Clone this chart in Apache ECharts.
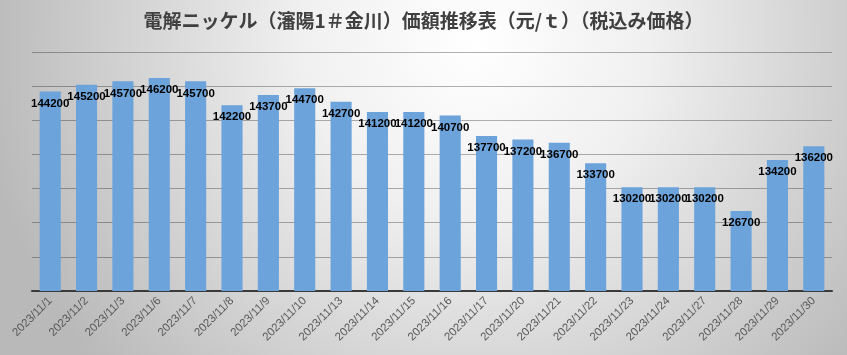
<!DOCTYPE html>
<html>
<head>
<meta charset="utf-8">
<script src="https://cdn.jsdelivr.net/npm/echarts@6/dist/echarts.min.js"></script>
<style>
html,body{margin:0;padding:0;}
#chart{width:847px;height:355px;}
</style>
</head>
<body>
<div id="chart"></div>
<script>
const titleText = '電解ニッケル（瀋陽1＃金川）価額推移表（元/ｔ）（税込み価格）';
const categories = ['2023/11/1','2023/11/2','2023/11/3','2023/11/6','2023/11/7','2023/11/8','2023/11/9','2023/11/10','2023/11/13','2023/11/14','2023/11/15','2023/11/16','2023/11/17','2023/11/20','2023/11/21','2023/11/22','2023/11/23','2023/11/24','2023/11/27','2023/11/28','2023/11/29','2023/11/30'];
const prices = [144200,145200,145700,146200,145700,142200,143700,144700,142700,141200,141200,140700,137700,137200,136700,133700,130200,130200,130200,126700,134200,136200];
const yMin = 115000, yMax = 150000, yStep = 5000;

const chart = echarts.init(document.getElementById('chart'), null, {renderer:'canvas'});
chart.setOption({
  animation:false,
  backgroundColor: new echarts.graphic.RadialGradient(0.56, 0.12, 1.4, [
    {offset:0, color:'#ffffff'},
    {offset:0.35, color:'#f0f0f0'},
    {offset:1, color:'#b9b9b9'}
  ]),
  title:{
    text:titleText,
    left:'center',
    top:6,
    textStyle:{fontFamily:'"Noto Sans CJK JP", sans-serif', fontSize:19, fontWeight:'bold', color:'#404040'}
  },
  grid:{left:32, right:15, top:52, bottom:64, containLabel:false},
  xAxis:{
    type:'category',
    data:categories,
    axisLine:{lineStyle:{color:'#3a3a3a', width:2}},
    axisTick:{show:false},
    axisLabel:{rotate:45, color:'#595959', fontSize:11.5, fontFamily:'"Liberation Sans", Arial, sans-serif', margin:8, interval:0}
  },
  yAxis:{
    type:'value',
    min:yMin, max:yMax, interval:yStep,
    axisLabel:{show:false},
    axisLine:{show:false},
    axisTick:{show:false},
    splitLine:{lineStyle:{color:'rgba(0,0,0,0.3)', width:1}}
  },
  series:[{
    type:'bar',
    data:prices,
    barWidth:'58%',
    itemStyle:{color:'#6ba3da'},
    label:{
      show:true,
      position:'insideTop',
      distance:6,
      color:'#000',
      fontSize:11.5,
      fontWeight:'bold',
      fontFamily:'"Liberation Sans", Arial, sans-serif'
    }
  }]
});
</script>
</body>
</html>
